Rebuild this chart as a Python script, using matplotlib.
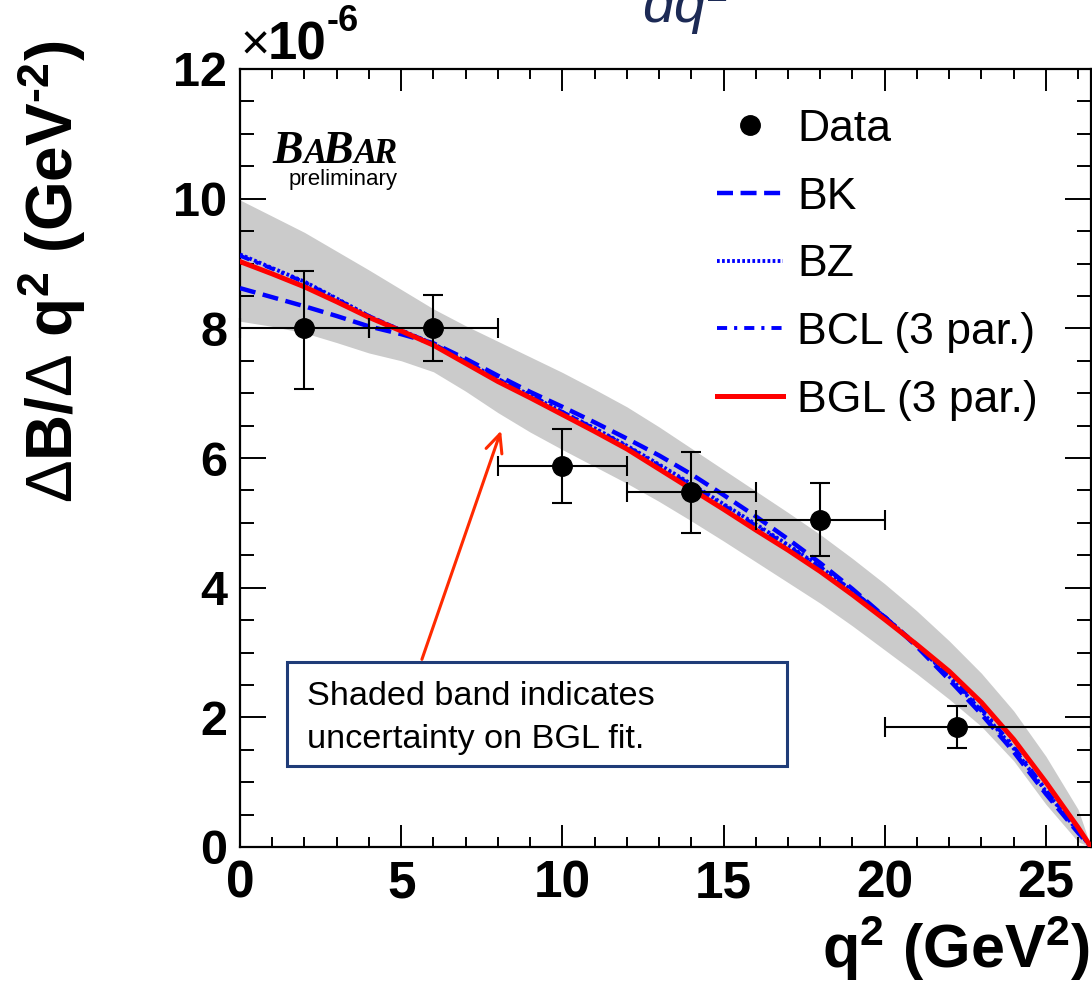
import matplotlib
matplotlib.use("Agg")
import matplotlib.pyplot as plt
from matplotlib.lines import Line2D
from matplotlib.patches import Rectangle, FancyArrowPatch
from matplotlib.ticker import MultipleLocator

# ==========================================
# data
# ==========================================
q2_bin_center = [2.0, 6.0, 10.0, 14.0, 18.0, 22.25]
q2_err_lo = [2.0, 2.0, 2.0, 2.0, 2.0, 2.25]
q2_err_hi = [2.0, 2.0, 2.0, 2.0, 2.0, 4.15]
dbdq2 = [8.00, 8.00, 5.88, 5.48, 5.05, 1.85]
dbdq2_err_lo = [0.93, 0.51, 0.57, 0.63, 0.56, 0.32]
dbdq2_err_hi = [0.89, 0.52, 0.56, 0.61, 0.57, 0.33]

q2_fit = [0, 1, 2, 3, 4, 5, 6, 7, 8, 9, 10, 11, 12, 13, 14, 15, 16, 17, 18,
          19, 20, 21, 22, 23, 24, 25, 26, 26.4]
bgl = [9.03, 8.84, 8.64, 8.41, 8.17, 7.96, 7.74, 7.46, 7.18, 6.93, 6.67, 6.41,
       6.14, 5.83, 5.52, 5.21, 4.89, 4.58, 4.25, 3.89, 3.51, 3.12, 2.71, 2.23,
       1.66, 1.00, 0.30, 0.0]
bk = [8.62, 8.48, 8.34, 8.19, 8.03, 7.91, 7.77, 7.53, 7.27, 7.02, 6.79, 6.55,
      6.30, 6.04, 5.75, 5.43, 5.10, 4.75, 4.38, 3.98, 3.55, 3.09, 2.58, 2.05,
      1.47, 0.82, 0.22, 0.0]
bz = [9.14, 8.93, 8.72, 8.46, 8.19, 7.97, 7.76, 7.49, 7.22, 6.97, 6.71, 6.46,
      6.19, 5.90, 5.60, 5.29, 4.98, 4.66, 4.32, 3.95, 3.55, 3.11, 2.63, 2.10,
      1.52, 0.86, 0.24, 0.0]
bcl = [9.12, 8.92, 8.71, 8.45, 8.19, 7.97, 7.76, 7.49, 7.22, 6.97, 6.71, 6.45,
       6.18, 5.88, 5.58, 5.27, 4.96, 4.64, 4.31, 3.95, 3.55, 3.12, 2.65, 2.13,
       1.55, 0.88, 0.25, 0.0]
band_hi = [9.98, 9.73, 9.48, 9.19, 8.90, 8.60, 8.30, 8.04, 7.80, 7.56, 7.32,
           7.06, 6.79, 6.48, 6.15, 5.82, 5.49, 5.16, 4.82, 4.45, 4.06, 3.64,
           3.18, 2.68, 2.10, 1.40, 0.58, 0.0]
band_lo = [8.11, 8.03, 7.93, 7.78, 7.62, 7.50, 7.33, 7.03, 6.70, 6.40, 6.13,
           5.87, 5.61, 5.33, 5.03, 4.72, 4.40, 4.08, 3.76, 3.41, 3.04, 2.67,
           2.28, 1.86, 1.33, 0.66, 0.08, 0.0]

legend_labels = ["Data", "BK", "BZ", "BCL (3 par.)", "BGL (3 par.)"]
y_ticks = [0, 2, 4, 6, 8, 10, 12]
x_ticks = [0, 5, 10, 15, 20, 25]

# ==========================================
# style
# ==========================================
W, H = 1092, 984
plt.rcParams['font.family'] = ['Liberation Sans', 'DejaVu Sans']
plt.rcParams['mathtext.fontset'] = 'custom'
plt.rcParams['mathtext.rm'] = 'Liberation Sans'
plt.rcParams['mathtext.bf'] = 'Liberation Sans:bold'
plt.rcParams['mathtext.it'] = 'Liberation Sans:italic'

def fx(px):
    return px / W

def fy(py):
    return 1 - py / H

band_col = '#cbcbcb'
blue, red = '#0000ff', '#ff0000'
bk_style = dict(color=blue, lw=3.2, ls=(0, (3.6, 1.7)))
bz_style = dict(color=blue, lw=2.8, ls=(0, (0.7, 0.6)))
bcl_style = dict(color=blue, lw=2.8, ls=(0, (2.6, 1.8, 0.8, 1.8)))
bgl_style = dict(color=red, lw=3.6, ls='-')

fig = plt.figure(figsize=(W / 100, H / 100), dpi=100)
ax = fig.add_axes([fx(240), fy(847), (1091 - 240) / W, (847 - 69) / H])

ax.fill_between(q2_fit, band_lo, band_hi, color=band_col, lw=0, zorder=1)
ax.plot(q2_fit, bk, zorder=3, **bk_style)
ax.plot(q2_fit, bz, zorder=3, **bz_style)
ax.plot(q2_fit, bcl, zorder=3, **bcl_style)
ax.plot(q2_fit, bgl, zorder=4, **bgl_style)
ax.errorbar(q2_bin_center, dbdq2, xerr=[q2_err_lo, q2_err_hi],
            yerr=[dbdq2_err_lo, dbdq2_err_hi], fmt='o', color='black',
            ms=14, elinewidth=1.5, capsize=7, capthick=1.5, zorder=6,
            clip_on=False)

ax.set_xlim(0, 26.4)
ax.set_ylim(0, 12)
ax.set_xticks(x_ticks)
ax.set_yticks(y_ticks)
ax.xaxis.set_minor_locator(MultipleLocator(1))
ax.yaxis.set_minor_locator(MultipleLocator(0.5))
ax.tick_params(which='both', direction='in', top=True, right=True, width=1.4)
ax.tick_params(axis='x', which='major', length=16, pad=9)
ax.tick_params(axis='x', which='minor', length=7.5)
ax.tick_params(axis='y', which='major', length=19, pad=9)
ax.tick_params(axis='y', which='minor', length=10)
for lab in ax.get_xticklabels():
    lab.set_fontsize(37)
    lab.set_fontweight('bold')
for lab in ax.get_yticklabels():
    lab.set_fontsize(35)
    lab.set_fontweight('bold')
for sp in ax.spines.values():
    sp.set_linewidth(1.6)

# axis titles
ylab = ('$\\Delta$B/$\\Delta$ q$^{\\mathbf{2}}$ (GeV$^{\\mathbf{'
        + '\u2010' + '2}}$)')
fig.text(fx(52), fy(272), ylab, rotation=90, ha='center', va='center',
         fontsize=46, fontweight='bold')
fig.text(fx(1090), fy(968), r'q$^{\mathbf{2}}$ (GeV$^{\mathbf{2}}$)',
         ha='right', va='baseline', fontsize=44, fontweight='bold')

# exponent
fig.text(fx(241), fy(60), '\u00d7', ha='left', va='baseline', fontsize=36)
fig.text(fx(268), fy(60), '10', ha='left', va='baseline', fontsize=38,
         fontweight='bold')
fig.text(fx(327), fy(31), '-6', ha='left', va='baseline', fontsize=26,
         fontweight='bold')

# title fragment cut at the top
fig.text(fx(642), fy(23), r'dq$^2$', ha='left', va='baseline', fontsize=41,
         style='italic', color='#1c2a55')

# BABAR logo
logo = dict(family='Liberation Serif', weight='bold', style='italic',
            ha='left', va='baseline')
for txt, px, size in [('B', 272, 33), ('A', 304, 25), ('B', 322, 33),
                      ('A', 354, 25), ('R', 373, 25)]:
    fig.text(fx(px), fy(163), txt, fontsize=size, **logo)
fig.text(fx(398), fy(185), 'preliminary', ha='right', va='baseline',
         fontsize=16)

# legend
handles = [
    Line2D([], [], ls='none', marker='o', color='black', ms=14),
    Line2D([], [], **bk_style),
    Line2D([], [], **bz_style),
    Line2D([], [], **bcl_style),
    Line2D([], [], **bgl_style),
]
ax.legend(handles, legend_labels, loc='upper left',
          bbox_to_anchor=(fx(717), fy(109)), bbox_transform=fig.transFigure,
          frameon=False, fontsize=32, borderpad=0, borderaxespad=0,
          handlelength=1.49, handletextpad=0.32, labelspacing=0.6,
          numpoints=1)

# note box with arrow
box = Rectangle((fx(287), fy(766)), fx(787) - fx(287), fy(662) - fy(766),
                transform=fig.transFigure, facecolor='white',
                edgecolor='#1f3c78', lw=2.2, zorder=10)
fig.patches.append(box)
fig.text(fx(307), fy(705), 'Shaded band indicates', ha='left',
         va='baseline', fontsize=24.7, zorder=11)
fig.text(fx(307), fy(748), 'uncertainty on BGL fit.', ha='left',
         va='baseline', fontsize=24.7, zorder=11)
fig.add_artist(FancyArrowPatch(
    (fx(421), fy(662)), (fx(502), fy(428)), transform=fig.transFigure,
    arrowstyle='->,head_length=13,head_width=6', color='#ff2a00', lw=2.2,
    mutation_scale=1, zorder=11))

fig.savefig('out.png', dpi=100)
